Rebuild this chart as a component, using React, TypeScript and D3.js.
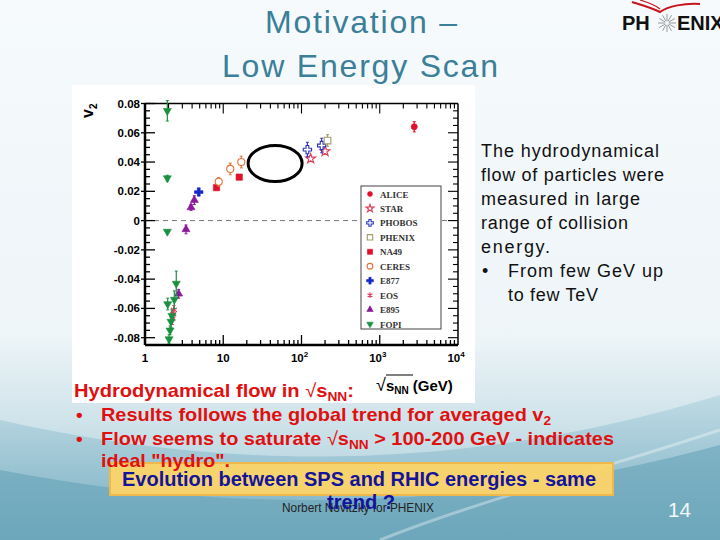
import {useEffect, useRef} from 'react';
import * as d3 from 'd3';

// v2 vs sqrt(sNN) compilation
const aliceE = [2760];
const aliceV2 = [0.0641];
const aliceErr = [0.0035];

const starE = [131, 200];
const starV2 = [0.0423, 0.0473];
const starErr = [0.002, 0.002];

const phobosE = [119, 181];
const phobosV2 = [0.0485, 0.0513];
const phobosErr = [0.005, 0.005];

const phenixE = [215];
const phenixV2 = [0.0547];
const phenixErr = [0.004];

const na49E = [8.2, 16];
const na49V2 = [0.0225, 0.0297];
const na49Err = [0.001, 0.001];

const ceresE = [8.75, 12.3, 17.0];
const ceresV2 = [0.0265, 0.0353, 0.040];
const ceresErr = [0.003, 0.004, 0.004];

const e877E = [4.86];
const e877V2 = [0.0195];
const e877Err = [0.002];

const eosE = [2.24, 2.29, 2.34];
const eosV2 = [-0.067, -0.064, -0.061];
const eosErr = [0.004, 0.003, 0.003];

const e895E = [2.69, 3.34, 3.87, 4.27];
const e895V2 = [-0.050, -0.006, 0.009, 0.014];
const e895Err = [0.003, 0.003, 0.002, 0.003];

const fopiE = [1.93, 1.93, 1.93, 1.95, 2.51, 2.37, 2.21, 2.15, 2.09, 2.03];
const fopiV2 = [0.075, 0.029, -0.0075, -0.057, -0.043, -0.054, -0.065, -0.069, -0.075, -0.081];
const fopiErr = [0.007, 0.002, 0.001, 0.004, 0.0085, 0.006, 0.004, 0.004, 0.003, 0.003];

const legendNames = ['ALICE', 'STAR', 'PHOBOS', 'PHENIX', 'NA49', 'CERES', 'E877', 'EOS', 'E895', 'FOPI'];
const yTicks = [-0.08, -0.06, -0.04, -0.02, 0, 0.02, 0.04, 0.06, 0.08];
const yTickLabels = ['-0.08', '-0.06', '-0.04', '-0.02', '0', '0.02', '0.04', '0.06', '0.08'];
const xTicks = [1, 10, 100, 1000, 10000];
const xTickBase = ['1', '10', '10', '10', '10'];
const xTickExp = ['', '', '2', '3', '4'];

const bodyLines = ['The hydrodynamical', 'flow of particles were', 'measured in large', 'range of collision', 'energy.'];

const SANS = '"Liberation Sans", Arial, sans-serif';
const SERIF = '"Liberation Serif", "Times New Roman", serif';

export default function App() {
    const svgRef = useRef(null);

    useEffect(() => {
        const svg = d3.select(svgRef.current);
        svg.selectAll('*').remove();
        document.body.style.margin = '0';

        // ---- slide background
        const defs = svg.append('defs');
        const bg = defs.append('linearGradient').attr('id', 'bg').attr('x1', 0).attr('y1', 0).attr('x2', 0).attr('y2', 1);
        bg.append('stop').attr('offset', '0').attr('stop-color', '#f6fafc');
        bg.append('stop').attr('offset', '0.62').attr('stop-color', '#eef5f8');
        bg.append('stop').attr('offset', '0.78').attr('stop-color', '#cfe3ea');
        bg.append('stop').attr('offset', '1').attr('stop-color', '#9ec7d5');
        const wave = defs.append('linearGradient').attr('id', 'wave').attr('x1', 0).attr('y1', 0).attr('x2', 0).attr('y2', 1);
        wave.append('stop').attr('offset', '0').attr('stop-color', '#b6d6e1');
        wave.append('stop').attr('offset', '1').attr('stop-color', '#6aa5ba');

        svg.append('rect').attr('width', 720).attr('height', 540).attr('fill', 'url(#bg)');
        svg.append('path')
            .attr('d', 'M0,420 C220,470 460,475 720,395 L720,540 L0,540 Z')
            .attr('fill', 'url(#wave)').attr('opacity', 0.75);
        svg.append('path')
            .attr('d', 'M0,470 C260,520 500,505 720,445 L720,540 L0,540 Z')
            .attr('fill', '#65a1b7').attr('opacity', 0.6);
        svg.append('path')
            .attr('d', 'M380,540 C480,500 600,470 720,430')
            .attr('fill', 'none').attr('stroke', '#ffffff').attr('stroke-opacity', 0.35).attr('stroke-width', 3);

        // ---- title
        const title = svg.append('g').attr('font-family', SANS).attr('fill', '#3b7f99').attr('font-size', 32);
        title.append('text').attr('x', 265).attr('y', 33).attr('textLength', 192).attr('lengthAdjust', 'spacing').text('Motivation –');
        title.append('text').attr('x', 222).attr('y', 77).attr('textLength', 276).attr('lengthAdjust', 'spacing').text('Low Energy Scan');

        // ---- PHENIX logo
        const logo = svg.append('g');
        logo.append('path').attr('d', 'M632,2 C645,6 652,8 660,12 C668,6 685,3 700,4')
            .attr('fill', 'none').attr('stroke', '#c8141e').attr('stroke-width', 2);
        logo.append('path').attr('d', 'M640,0 C650,3 655,5 660,9').attr('fill', 'none').attr('stroke', '#c8141e').attr('stroke-width', 1.2);
        logo.append('text').attr('x', 622).attr('y', 30).attr('font-family', SANS).attr('font-weight', 'bold')
            .attr('font-size', 20).attr('fill', '#111').text('PH');
        d3.range(12).forEach(i => {
            const a = i * Math.PI / 6;
            logo.append('line').attr('x1', 667 + Math.cos(a) * 2).attr('y1', 23 + Math.sin(a) * 2)
                .attr('x2', 667 + Math.cos(a) * 9).attr('y2', 23 + Math.sin(a) * 9)
                .attr('stroke', '#999').attr('stroke-width', 1);
        });
        logo.append('text').attr('x', 677).attr('y', 30).attr('font-family', SANS).attr('font-weight', 'bold')
            .attr('font-size', 20).attr('fill', '#111').text('ENIX');

        // ---- chart picture
        svg.append('rect').attr('x', 72).attr('y', 85).attr('width', 403).attr('height', 318).attr('fill', '#fff');

        const left = 145, right = 458, top = 103.5, bottom = 345;
        const x = d3.scaleLog().domain([1, 10000]).range([left, right]);
        const y = d3.scaleLinear().domain([-0.085, 0.08]).range([bottom, top]);
        const g = svg.append('g');

        // zero line
        g.append('line').attr('x1', left).attr('x2', right).attr('y1', y(0)).attr('y2', y(0))
            .attr('stroke', '#777').attr('stroke-dasharray', '5,4').attr('stroke-width', 1);

        // y ticks (major every 0.02, minor every 0.005)
        d3.range(-0.085, 0.0801, 0.005).forEach(v => {
            const major = yTicks.some(t => Math.abs(t - v) < 1e-6);
            const len = major ? 10 : 5;
            g.append('line').attr('x1', major ? left - 4 : left).attr('x2', left + len).attr('y1', y(v)).attr('y2', y(v))
                .attr('stroke', '#000').attr('stroke-width', 1.3);
            g.append('line').attr('x1', right - len).attr('x2', right).attr('y1', y(v)).attr('y2', y(v))
                .attr('stroke', '#000').attr('stroke-width', 1.1);
        });
        // x ticks
        d3.range(0, 4).forEach(d => {
            d3.range(1, 10).forEach(k => {
                const v = k * Math.pow(10, d);
                const len = k === 1 ? 10 : 5;
                g.append('line').attr('x1', x(v)).attr('x2', x(v)).attr('y1', bottom).attr('y2', bottom - len)
                    .attr('stroke', '#000').attr('stroke-width', 1.3);
                g.append('line').attr('x1', x(v)).attr('x2', x(v)).attr('y1', top).attr('y2', top + len)
                    .attr('stroke', '#000').attr('stroke-width', 1.1);
            });
        });
        // frame
        g.append('line').attr('x1', left).attr('x2', left).attr('y1', top).attr('y2', bottom).attr('stroke', '#000').attr('stroke-width', 2.5);
        g.append('line').attr('x1', left).attr('x2', right).attr('y1', bottom).attr('y2', bottom).attr('stroke', '#000').attr('stroke-width', 2.5);
        g.append('line').attr('x1', left).attr('x2', right).attr('y1', top).attr('y2', top).attr('stroke', '#000').attr('stroke-width', 1.5);
        g.append('line').attr('x1', right).attr('x2', right).attr('y1', top).attr('y2', bottom).attr('stroke', '#000').attr('stroke-width', 1.5);

        // tick labels
        yTicks.forEach((t, i) => {
            g.append('text').attr('x', 140).attr('y', y(t) + 4).attr('text-anchor', 'end')
                .attr('font-family', SANS).attr('font-weight', 'bold').attr('font-size', 11.5).text(yTickLabels[i]);
        });
        xTicks.forEach((t, i) => {
            const lbl = g.append('text').attr('x', x(t) + (xTickExp[i] ? -2 : 0)).attr('y', 362).attr('text-anchor', 'middle')
                .attr('font-family', SANS).attr('font-weight', 'bold').attr('font-size', 11.5);
            lbl.append('tspan').text(xTickBase[i]);
            if (xTickExp[i]) lbl.append('tspan').attr('dy', -5).attr('font-size', 8).text(xTickExp[i]);
        });
        // axis titles
        const vl = g.append('text').attr('transform', 'translate(93,118) rotate(-90)')
            .attr('font-family', SANS).attr('font-weight', 'bold').attr('font-size', 16);
        vl.append('tspan').text('v');
        vl.append('tspan').attr('dy', 4).attr('font-size', 10).text('2');

        const xl = g.append('text').attr('x', 376).attr('y', 391).attr('font-family', SANS).attr('font-weight', 'bold').attr('font-size', 15);
        xl.append('tspan').attr('font-weight', 'normal').attr('font-size', 18).text('√');
        xl.append('tspan').text('s');
        xl.append('tspan').attr('dy', 3).attr('font-size', 10).text('NN');
        xl.append('tspan').attr('dy', -3).text(' (GeV)');
        g.append('line').attr('x1', 386).attr('x2', 413).attr('y1', 375).attr('y2', 375).attr('stroke', '#000').attr('stroke-width', 1);

        // ---- series
        const downTri = {draw(ctx, size) { d3.symbolTriangle.draw(ctx, size); }};
        const series = [
            {name: 'ALICE', e: aliceE, v: aliceV2, err: aliceErr, color: '#e0102a', sym: d3.symbolCircle, size: 30, fill: true},
            {name: 'STAR', e: starE, v: starV2, err: starErr, color: '#e0405a', sym: d3.symbolStar, size: 30, fill: false},
            {name: 'PHOBOS', e: phobosE, v: phobosV2, err: phobosErr, color: '#2a34c0', sym: d3.symbolCross, size: 38, fill: false},
            {name: 'PHENIX', e: phenixE, v: phenixV2, err: phenixErr, color: '#a49a70', sym: d3.symbolSquare, size: 45, fill: false},
            {name: 'NA49', e: na49E, v: na49V2, err: na49Err, color: '#e0102a', sym: d3.symbolSquare, size: 40, fill: true},
            {name: 'CERES', e: ceresE, v: ceresV2, err: ceresErr, color: '#e8703a', sym: d3.symbolCircle, size: 40, fill: false},
            {name: 'E877', e: e877E, v: e877V2, err: e877Err, color: '#1428c8', sym: d3.symbolCross, size: 40, fill: true},
            {name: 'EOS', e: eosE, v: eosV2, err: eosErr, color: '#e83a60', sym: d3.symbolAsterisk, size: 35, fill: false},
            {name: 'E895', e: e895E, v: e895V2, err: e895Err, color: '#8a1a9a', sym: d3.symbolTriangle, size: 28, fill: true},
            {name: 'FOPI', e: fopiE, v: fopiV2, err: fopiErr, color: '#1a9040', sym: downTri, size: 28, fill: true, flip: true},
        ];

        const drawMarker = (sel, s, cx, cy) => {
            sel.append('path')
                .attr('d', d3.symbol().type(s.sym).size(s.size)())
                .attr('transform', `translate(${cx},${cy})${s.flip ? ' rotate(180)' : ''}`)
                .attr('fill', s.fill ? s.color : '#fff')
                .attr('stroke', s.color)
                .attr('stroke-width', s.fill ? 0.6 : 1.1);
        };

        series.forEach(s => {
            s.e.forEach((e, i) => {
                const cx = x(e), y1 = y(s.v[i] + s.err[i]), y2 = y(s.v[i] - s.err[i]);
                g.append('line').attr('x1', cx).attr('x2', cx).attr('y1', y1).attr('y2', y2).attr('stroke', s.color).attr('stroke-width', 1.2);
                g.append('line').attr('x1', cx - 1.5).attr('x2', cx + 1.5).attr('y1', y1).attr('y2', y1).attr('stroke', s.color).attr('stroke-width', 1);
                g.append('line').attr('x1', cx - 1.5).attr('x2', cx + 1.5).attr('y1', y2).attr('y2', y2).attr('stroke', s.color).attr('stroke-width', 1);
            });
            s.e.forEach((e, i) => drawMarker(g, s, x(e), y(s.v[i])));
        });

        // annotation ellipse
        g.append('ellipse').attr('cx', x(46)).attr('cy', y(0.039)).attr('rx', 27).attr('ry', 18)
            .attr('fill', 'none').attr('stroke', '#000').attr('stroke-width', 3);

        // legend
        const lg = g.append('g');
        lg.append('rect').attr('x', 361).attr('y', 186).attr('width', 80).attr('height', 143)
            .attr('fill', '#fff').attr('stroke', '#444').attr('stroke-width', 1);
        legendNames.forEach((n, i) => {
            const s = series.find(d => d.name === n);
            const ry = 194 + i * 14.45;
            drawMarker(lg, {...s, size: s.size * 0.65}, 370, ry);
            lg.append('text').attr('x', 380).attr('y', ry + 3.5).attr('font-family', SERIF).attr('font-weight', 'bold')
                .attr('font-size', 9).attr('fill', '#333').text(n);
        });

        // ---- right hand text
        const rt = svg.append('g').attr('font-family', SANS).attr('font-size', 18).attr('fill', '#111');
        const rtWidths = [178, 183, 159, 147, 69];
        bodyLines.forEach((l, i) => {
            rt.append('text').attr('x', 481).attr('y', 156.7 + i * 24).attr('textLength', rtWidths[i]).attr('lengthAdjust', 'spacing').text(l);
        });
        rt.append('text').attr('x', 482).attr('y', 276.7).text('•');
        rt.append('text').attr('x', 508).attr('y', 276.7).attr('textLength', 155).attr('lengthAdjust', 'spacing').text('From few GeV up');
        rt.append('text').attr('x', 508).attr('y', 300.7).attr('textLength', 90).attr('lengthAdjust', 'spacing').text('to few TeV');

        // yellow call-out box (drawn under the red text, which runs onto it)
        svg.append('rect').attr('x', 110).attr('y', 463).attr('width', 503).attr('height', 32)
            .attr('fill', '#fcd468').attr('fill-opacity', 0.95).attr('stroke', '#eeb84c').attr('stroke-width', 2);

        // ---- bottom text
        const bt = svg.append('g').attr('font-family', SANS).attr('font-weight', 'bold').attr('font-size', 19).attr('fill', '#e01010');
        const t1 = bt.append('text').attr('x', 74).attr('y', 397).attr('textLength', 280).attr('lengthAdjust', 'spacingAndGlyphs');
        t1.append('tspan').text('Hydrodynamical flow in ');
        t1.append('tspan').attr('font-weight', 'normal').text('√');
        t1.append('tspan').text('s');
        t1.append('tspan').attr('dy', 4).attr('font-size', 13).text('NN');
        t1.append('tspan').attr('dy', -4).text(':');

        bt.append('text').attr('x', 76).attr('y', 421).text('•');
        const t2 = bt.append('text').attr('x', 101).attr('y', 421).attr('textLength', 450).attr('lengthAdjust', 'spacingAndGlyphs');
        t2.append('tspan').text('Results follows the global trend for averaged v');
        t2.append('tspan').attr('dy', 4).attr('font-size', 13).text('2');

        bt.append('text').attr('x', 76).attr('y', 445).text('•');
        const t3 = bt.append('text').attr('x', 101).attr('y', 445).attr('textLength', 513).attr('lengthAdjust', 'spacingAndGlyphs');
        t3.append('tspan').text('Flow seems to saturate ');
        t3.append('tspan').attr('font-weight', 'normal').text('√');
        t3.append('tspan').text('s');
        t3.append('tspan').attr('dy', 4).attr('font-size', 13).text('NN');
        t3.append('tspan').attr('dy', -4).text(' > 100-200 GeV - indicates');

        bt.append('text').attr('x', 101).attr('y', 467).attr('textLength', 129).attr('lengthAdjust', 'spacingAndGlyphs').text('ideal "hydro".');

        svg.append('text').attr('x', 122).attr('y', 486).attr('font-family', SANS).attr('font-weight', 'bold').attr('font-size', 19.5)
            .attr('fill', '#14149a').attr('textLength', 474).attr('lengthAdjust', 'spacingAndGlyphs')
            .text('Evolution between SPS and RHIC energies - same');

        svg.append('text').attr('x', 282).attr('y', 512).attr('font-family', SANS).attr('font-size', 12.5).attr('fill', '#222')
            .attr('textLength', 152).attr('lengthAdjust', 'spacingAndGlyphs').text('Norbert Novitzky for PHENIX');
        svg.append('text').attr('x', 327).attr('y', 509).attr('font-family', SANS).attr('font-weight', 'bold').attr('font-size', 19.5)
            .attr('fill', '#14149a').attr('textLength', 68).attr('lengthAdjust', 'spacingAndGlyphs').text('trend ?');

        svg.append('text').attr('x', 668).attr('y', 517).attr('font-family', SANS).attr('font-size', 21).attr('fill', '#f4f8fa')
            .attr('textLength', 23).attr('lengthAdjust', 'spacingAndGlyphs').text('14');
    }, []);

    return (<svg ref={svgRef} width={720} height={540} style={{position: 'absolute', left: 0, top: 0}}></svg>);
}
